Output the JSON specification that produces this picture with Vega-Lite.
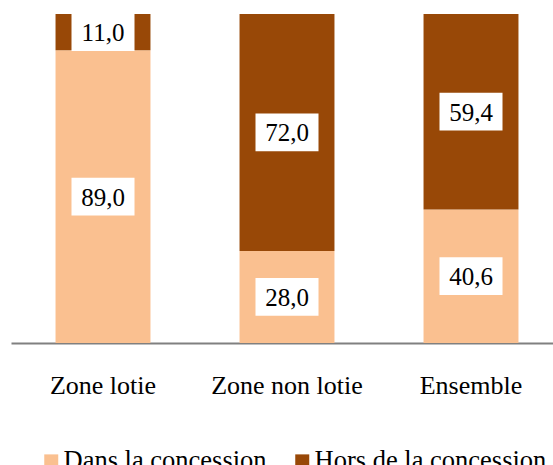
{
  "$schema": "https://vega.github.io/schema/vega-lite/v6.json",
  "autosize": {"type": "none"},
  "padding": {"left": 11, "top": 14, "right": 0, "bottom": 122},
  "width": 552,
  "height": 329,
  "config": {
    "view": {"stroke": null},
    "locale": {"number": {"decimal": ",", "thousands": " ", "grouping": [3], "currency": ["", " €"]}},
    "font": "Liberation Serif"
  },
  "data": {
    "values": [
      {"zone": "Zone lotie", "serie": "Dans la concession", "value": 89.0},
      {"zone": "Zone lotie", "serie": "Hors de la concession", "value": 11.0},
      {"zone": "Zone non lotie", "serie": "Dans la concession", "value": 28.0},
      {"zone": "Zone non lotie", "serie": "Hors de la concession", "value": 72.0},
      {"zone": "Ensemble", "serie": "Dans la concession", "value": 40.6},
      {"zone": "Ensemble", "serie": "Hors de la concession", "value": 59.4}
    ]
  },
  "transform": [
    {"stack": "value", "groupby": ["zone"], "sort": [{"field": "serie", "order": "ascending"}], "as": ["v0", "v1"]},
    {"calculate": "(datum.v0 + datum.v1) / 2", "as": "mid"}
  ],
  "encoding": {
    "x": {
      "field": "zone", "type": "nominal", "sort": ["Zone lotie", "Zone non lotie", "Ensemble"],
      "scale": {"paddingInner": 0.484, "paddingOuter": 0.242},
      "axis": {
        "title": null, "labelAngle": 0, "ticks": false, "domainColor": "#808080", "domainWidth": 2,
        "labelFont": "Liberation Serif", "labelFontSize": 26, "labelColor": "#000000", "labelPadding": 29
      }
    }
  },
  "layer": [
    {
      "mark": {"type": "bar"},
      "encoding": {
        "y": {"field": "v0", "type": "quantitative", "scale": {"domain": [0, 100]}, "axis": null},
        "y2": {"field": "v1"},
        "color": {
          "field": "serie", "type": "nominal",
          "scale": {"domain": ["Dans la concession", "Hors de la concession"], "range": ["#FAC090", "#984807"]},
          "legend": {
            "title": null, "orient": "none", "direction": "horizontal", "legendX": 27, "legendY": 434,
            "symbolType": "square", "symbolSize": 196, "symbolStrokeWidth": 0, "symbolOpacity": 1,
            "labelFont": "Liberation Serif", "labelFontSize": 26.5, "labelColor": "#000000", "labelLimit": 0,
            "labelOffset": -1, "columnPadding": 22, "padding": 0
          }
        }
      }
    },
    {
      "mark": {"type": "point", "shape": "M-1,-0.6L1,-0.6L1,0.6L-1,0.6Z", "filled": true, "color": "#ffffff", "opacity": 1, "size": 3969, "strokeWidth": 0},
      "encoding": {
        "y": {"field": "mid", "type": "quantitative", "scale": {"domain": [0, 100]}}
      }
    },
    {
      "mark": {"type": "text", "font": "Liberation Serif", "fontSize": 25, "color": "#000000", "baseline": "middle", "align": "center", "dy": 1},
      "encoding": {
        "y": {"field": "mid", "type": "quantitative", "scale": {"domain": [0, 100]}},
        "text": {"field": "value", "type": "quantitative", "format": ".1f"}
      }
    }
  ]
}
